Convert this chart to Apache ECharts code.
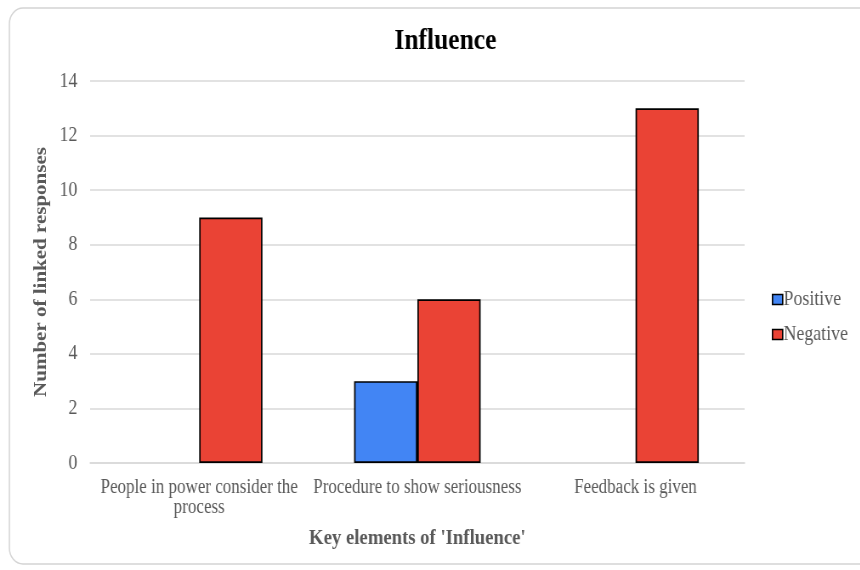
<!DOCTYPE html>
<html>
<head>
<meta charset="utf-8">
<script src="https://cdn.jsdelivr.net/npm/echarts@6/dist/echarts.min.js"></script>
<style>
  html, body { margin: 0; padding: 0; background: #fff; overflow: hidden; }
  /* The chart is laid out on a wider canvas and narrowed to 860px, giving the condensed serif lettering. */
  #wrap { width: 860px; height: 570px; overflow: hidden; }
  #chart { width: 1012px; height: 570px; transform: scaleX(0.85); transform-origin: 0 0; }
</style>
</head>
<body>
<div id="wrap"><div id="chart"></div></div>
<script>
// Key elements and response counts
const categories = ['People in power consider the\nprocess', 'Procedure to show seriousness', 'Feedback is given'];
const positive = [0, 3, 0];
const negative = [9, 6, 13];
const yTicks = [0, 2, 4, 6, 8, 10, 12, 14];
const seriesNames = ['Positive', 'Negative'];

const serif = '"Liberation Serif", "Times New Roman", serif';
const chart = echarts.init(document.getElementById('chart'));

chart.setOption({
  animation: false,
  backgroundColor: '#fff',
  graphic: [{
    type: 'rect',
    shape: { x: 11, y: 8, width: 1040, height: 556, r: 16 },
    style: { fill: 'none', stroke: '#d4d4d4', lineWidth: 1.5 },
    z: -1
  }],
  title: {
    text: 'Influence',
    left: 519,
    textAlign: 'center',
    top: 21,
    textStyle: { fontFamily: serif, fontSize: 30, fontWeight: 'bold', color: '#000' }
  },
  legend: {
    orient: 'vertical',
    left: 903,
    top: 284,
    itemWidth: 12,
    itemHeight: 10,
    itemGap: 14,
    icon: 'rect',
    itemStyle: { borderColor: '#000', borderWidth: 1.6 },
    textStyle: { fontFamily: serif, fontSize: 21, color: '#595959', padding: [0, 0, 0, -4] },
    data: seriesNames
  },
  grid: { left: 106, right: 136, top: 81, bottom: 107 },
  xAxis: {
    type: 'category',
    data: categories,
    name: "Key elements of 'Influence'",
    nameLocation: 'middle',
    nameGap: 64,
    nameTextStyle: { fontFamily: serif, fontSize: 22, fontWeight: 'bold', color: '#595959' },
    axisLine: { lineStyle: { color: '#d9d9d9', width: 1.5 } },
    axisTick: { show: false },
    axisLabel: {
      interval: 0,
      margin: 15,
      lineHeight: 20,
      fontFamily: serif,
      fontSize: 20,
      color: '#595959'
    }
  },
  yAxis: {
    type: 'value',
    min: 0,
    max: 14,
    interval: 2,
    name: 'Number of linked responses',
    nameLocation: 'middle',
    nameGap: 42,
    nameTextStyle: { fontFamily: serif, fontSize: 21, fontWeight: 'bold', color: '#595959' },
    axisLine: { show: false },
    axisTick: { show: false },
    splitLine: { lineStyle: { color: '#d9d9d9', width: 1.5 } },
    axisLabel: {
      margin: 15,
      fontFamily: serif,
      fontSize: 21,
      color: '#595959',
      formatter: v => (yTicks.includes(v) ? String(v) : '')
    }
  },
  series: [
    {
      name: seriesNames[0],
      type: 'bar',
      data: positive.map(v => (v === 0 ? null : v)),
      barGap: '0%',
      barCategoryGap: '42%',
      itemStyle: { color: '#4285F4', borderColor: '#000', borderWidth: 1.7 }
    },
    {
      name: seriesNames[1],
      type: 'bar',
      data: negative,
      itemStyle: { color: '#EA4335', borderColor: '#000', borderWidth: 1.7 }
    }
  ]
});
</script>
</body>
</html>
